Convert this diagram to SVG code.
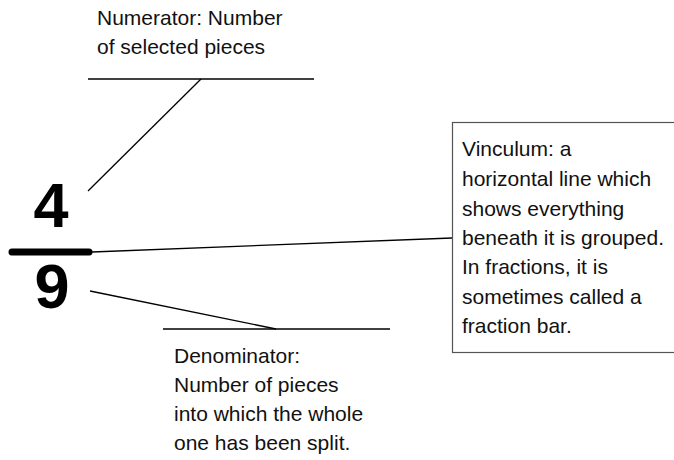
<svg xmlns="http://www.w3.org/2000/svg" width="674" height="460" viewBox="0 0 674 460">
<style>
.t{font-family:"Liberation Sans",Arial,sans-serif;font-size:21px;fill:#111}
.n{font-family:"Liberation Sans",Arial,sans-serif;font-size:63px;font-weight:bold;fill:#000;text-anchor:middle}
.ln{stroke:#000;stroke-width:1.3;fill:none}
</style>
<rect width="674" height="460" fill="#fff"/>
<g id="connectors">
<line class="ln" x1="88" y1="79" x2="314" y2="79"/>
<line class="ln" x1="201" y1="79" x2="88" y2="191"/>
<line class="ln" x1="92" y1="252" x2="452" y2="238" stroke="#333"/>
<line class="ln" x1="90" y1="291" x2="276" y2="329"/>
<line class="ln" x1="163" y1="329" x2="390" y2="329"/>
</g>
<g id="fraction">
<text class="n" x="51" y="227">4</text>
<line x1="12" y1="252" x2="89" y2="252" stroke="#000" stroke-width="7" stroke-linecap="round"/>
<text class="n" x="52" y="308">9</text>
</g>
<g id="numerator">
<text class="t" x="97" y="25">Numerator: Number</text>
<text class="t" x="97" y="54">of selected pieces</text>
</g>
<g id="denominator">
<text class="t" x="174" y="363">Denominator:</text>
<text class="t" x="174" y="392">Number of pieces</text>
<text class="t" x="174" y="421">into which the whole</text>
<text class="t" x="174" y="450">one has been split.</text>
</g>
<g id="vinculum">
<rect x="452.5" y="122.5" width="240" height="230" fill="#fff" stroke="#555" stroke-width="1.2"/>
<text class="t" x="462" y="156">Vinculum: a</text>
<text class="t" x="462" y="186">horizontal line which</text>
<text class="t" x="462" y="216">shows everything</text>
<text class="t" x="462" y="245">beneath it is grouped.</text>
<text class="t" x="462" y="274">In fractions, it is</text>
<text class="t" x="462" y="304">sometimes called a</text>
<text class="t" x="462" y="333">fraction bar.</text>
</g>
</svg>
